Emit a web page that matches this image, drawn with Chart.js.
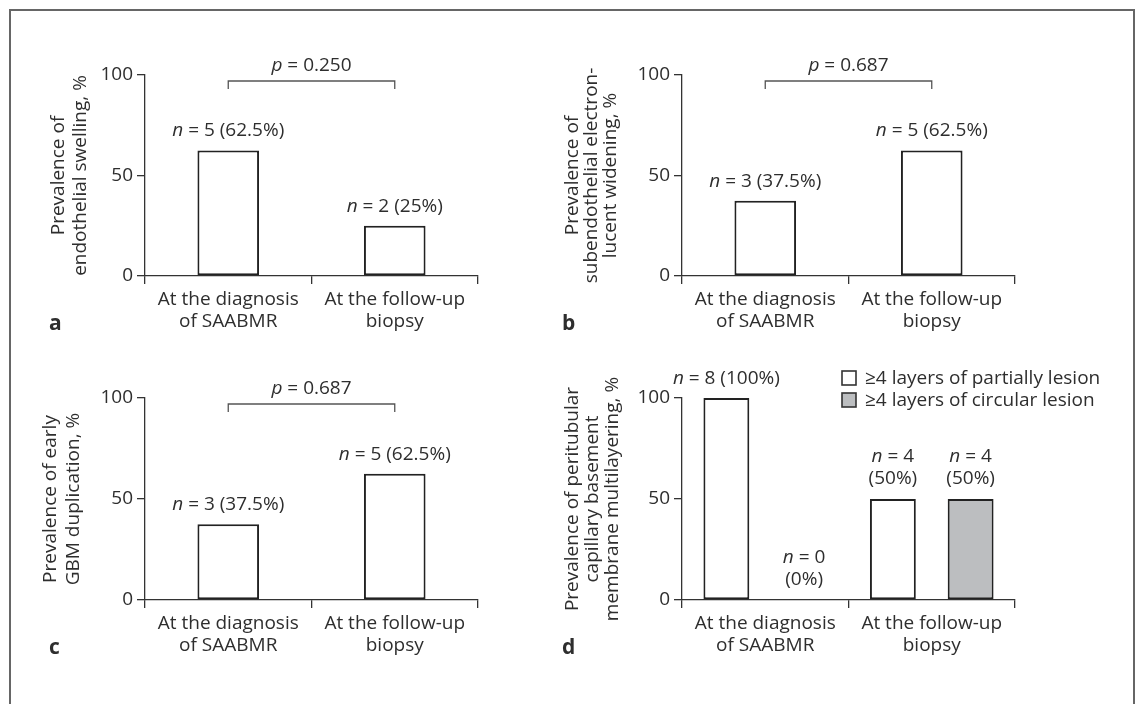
<!DOCTYPE html>
<html>
<head>
<meta charset="utf-8">
<script src="https://cdn.jsdelivr.net/npm/chart.js@4.4.1/dist/chart.umd.min.js"></script>
<style>
  body { margin: 0; background: #fff; width: 1144px; height: 704px; overflow: hidden; position: relative; }
  .frame { position: absolute; left: 9px; top: 9px; width: 1122px; height: 800px; border: 2px solid #666; border-bottom: none; }
  canvas { position: absolute; }
</style>
</head>
<body>
<div class="frame"></div>
<canvas id="chartA"></canvas>
<canvas id="chartB"></canvas>
<canvas id="chartC"></canvas>
<canvas id="chartD"></canvas>
<script>
// Data
const categories = [['At the diagnosis', 'of SAABMR'], ['At the follow-up', 'biopsy']];
const yTickValues = [0, 50, 100];

const swellingPct = [62.5, 25];
const swellingN = [5, 2];
const wideningPct = [37.5, 62.5];
const wideningN = [3, 5];
const duplicationPct = [37.5, 62.5];
const duplicationN = [3, 5];
const partialPct = [100, 50];
const partialN = [8, 4];
const circularPct = [0, 50];
const circularN = [0, 4];

const pValues = ['0.250', '0.687', '0.687', null];
const legendLabels = ['\u22654 layers of partially lesion', '\u22654 layers of circular lesion'];
const panelLetters = ['a', 'b', 'c', 'd'];
const yTitles = [
  ['Prevalence of', 'endothelial swelling, %'],
  ['Prevalence of', 'subendothelial electron-', 'lucent widening, %'],
  ['Prevalence of early', 'GBM duplication, %'],
  ['Prevalence of peritubular', 'capillary basement', 'membrane multilayering, %']
];

const FONT = '"Open Sans", sans-serif';
const INK = '#2e2e2e';
const LINE = '#333';

Chart.defaults.font.family = FONT;
Chart.defaults.font.size = 19;
Chart.defaults.color = INK;

// page layout of each panel (absolute page pixels)
const panels = [
  { canvas: 'chartA', box: [0, 0, 540, 352], area: [145, 478, 75, 276], titleX: 59, titleLH: 22, letterX: 49, letterY: 330 },
  { canvas: 'chartB', box: [540, 0, 604, 352], area: [682, 1015, 75, 276], titleX: 573, titleLH: 19, letterX: 562, letterY: 330 },
  { canvas: 'chartC', box: [0, 352, 540, 352], area: [145, 478, 398, 600], titleX: 51, titleLH: 23, letterX: 49, letterY: 654 },
  { canvas: 'chartD', box: [540, 352, 604, 352], area: [682, 1015, 398, 600], titleX: 573, titleLH: 20, letterX: 562, letterY: 654 }
];

const singleSets = [
  { pct: swellingPct, n: swellingN },
  { pct: wideningPct, n: wideningN },
  { pct: duplicationPct, n: duplicationN }
];

function fontOf(italic, bold, size) {
  return (italic ? 'italic ' : '') + (bold ? 'bold ' : '') + (size || 19) + 'px ' + FONT;
}

function drawRich(ctx, parts, cx, y) {
  let w = 0;
  parts.forEach(p => { ctx.font = fontOf(p[1]); w += ctx.measureText(p[0]).width; });
  let x = cx - w / 2;
  parts.forEach(p => {
    ctx.font = fontOf(p[1]);
    ctx.fillText(p[0], x, y);
    x += ctx.measureText(p[0]).width;
  });
}

// labels, bracket, p value, panel letter, legend
const notesPlugin = {
  id: 'notes',
  afterDraw(chart, args, opts) {
    const ctx = chart.ctx;
    const xs = chart.scales.x, ys = chart.scales.y;
    ctx.save();
    ctx.fillStyle = INK;
    ctx.textAlign = 'left';
    ctx.textBaseline = 'alphabetic';

    chart.data.datasets.forEach((ds, di) => {
      const meta = chart.getDatasetMeta(di);
      meta.data.forEach((el, i) => {
        const n = ds.counts[i];
        const pct = ds.data[i] + '%';
        if (opts.twoLine && opts.twoLine[di][i]) {
          drawRich(ctx, [['n', true], [' = ' + n, false]], el.x, el.y - 15 - 22);
          drawRich(ctx, [['(' + pct + ')', false]], el.x, el.y - 15);
        } else {
          drawRich(ctx, [['n', true], [' = ' + n + ' (' + pct + ')', false]], el.x, el.y - 14);
        }
      });
    });

    if (opts.p) {
      const x0 = xs.getPixelForValue(0), x1 = xs.getPixelForValue(1);
      const yb = ys.getPixelForValue(100) + 6;
      ctx.strokeStyle = '#555';
      ctx.lineWidth = 1.3;
      ctx.beginPath();
      ctx.moveTo(x0, yb + 8);
      ctx.lineTo(x0, yb);
      ctx.lineTo(x1, yb);
      ctx.lineTo(x1, yb + 8);
      ctx.stroke();
      drawRich(ctx, [['p', true], [' = ' + opts.p, false]], (x0 + x1) / 2, yb - 10);
    }

    ctx.font = fontOf(false, true, 21);
    ctx.fillText(opts.letter, opts.letterX, opts.letterY);

    if (opts.legend) {
      const lx = opts.legend.x, ly = opts.legend.y;
      chart.data.datasets.forEach((ds, di) => {
        const y = ly + di * 22;
        ctx.fillStyle = ds.backgroundColor;
        ctx.fillRect(lx, y, 14, 14);
        ctx.strokeStyle = LINE;
        ctx.lineWidth = 1.6;
        ctx.strokeRect(lx, y, 14, 14);
        ctx.fillStyle = INK;
        ctx.font = fontOf(false);
        ctx.fillText(ds.label, lx + 23, y + 13);
      });
    }
    ctx.restore();
  }
};

function barStyle(fill) {
  return {
    backgroundColor: fill,
    borderColor: '#222',
    borderWidth: 2,
    borderSkipped: false
  };
}

function makeChart(pi, datasets, extra) {
  const p = panels[pi];
  const [bl, bt, bw, bh] = p.box;
  const [al, ar, at, ab] = p.area;
  const cv = document.getElementById(p.canvas);
  cv.width = bw; cv.height = bh;
  cv.style.left = bl + 'px'; cv.style.top = bt + 'px';
  const yWidth = al - bl;
  const xHeight = bt + bh - ab;

  return new Chart(cv.getContext('2d'), {
    type: 'bar',
    data: { labels: categories, datasets: datasets },
    options: {
      responsive: false,
      animation: false,
      devicePixelRatio: 1,
      layout: { padding: { left: 0, top: at - bt, right: bl + bw - ar, bottom: 0 } },
      plugins: {
        legend: { display: false },
        tooltip: { enabled: false },
        notes: Object.assign({ letter: panelLetters[pi], letterX: p.letterX - bl, letterY: p.letterY - bt, p: pValues[pi] }, extra)
      },
      scales: {
        x: {
          grid: { drawOnChartArea: false, tickLength: 8, color: LINE, lineWidth: 1.3, offset: true },
          border: { color: LINE, width: 1.3 },
          ticks: { padding: 5, color: INK, font: { size: 19, lineHeight: '22px' }, maxRotation: 0 },
          afterFit: s => { s.height = xHeight; }
        },
        y: {
          min: 0, max: 100,
          afterBuildTicks: s => { s.ticks = yTickValues.map(v => ({ value: v })); },
          grid: { drawOnChartArea: false, tickLength: 8, color: LINE, lineWidth: 1.3 },
          border: { color: LINE, width: 1.3 },
          ticks: { padding: 4, color: INK, font: { size: 19 } },
          title: {
            display: true,
            text: yTitles[pi],
            color: INK,
            font: { size: 19, lineHeight: p.titleLH + 'px' },
            padding: { top: p.titleX - bl - p.titleLH / 2, bottom: 0 }
          },
          afterFit: s => { s.width = yWidth; }
        }
      }
    },
    plugins: [notesPlugin]
  });
}

singleSets.forEach((set, i) => {
  makeChart(i, [Object.assign({
    label: '',
    data: set.pct,
    counts: set.n,
    barPercentage: 0.37,
    categoryPercentage: 1
  }, barStyle('#ffffff'))]);
});

makeChart(3, [
  Object.assign({ label: legendLabels[0], data: partialPct, counts: partialN, barPercentage: 0.59, categoryPercentage: 0.934 }, barStyle('#ffffff')),
  Object.assign({ label: legendLabels[1], data: circularPct, counts: circularN, barPercentage: 0.59, categoryPercentage: 0.934 }, barStyle('#bcbec0'))
], {
  twoLine: [[false, true], [true, true]],
  legend: { x: 842 - 540, y: 371 - 352 }
});
</script>
</body>
</html>
